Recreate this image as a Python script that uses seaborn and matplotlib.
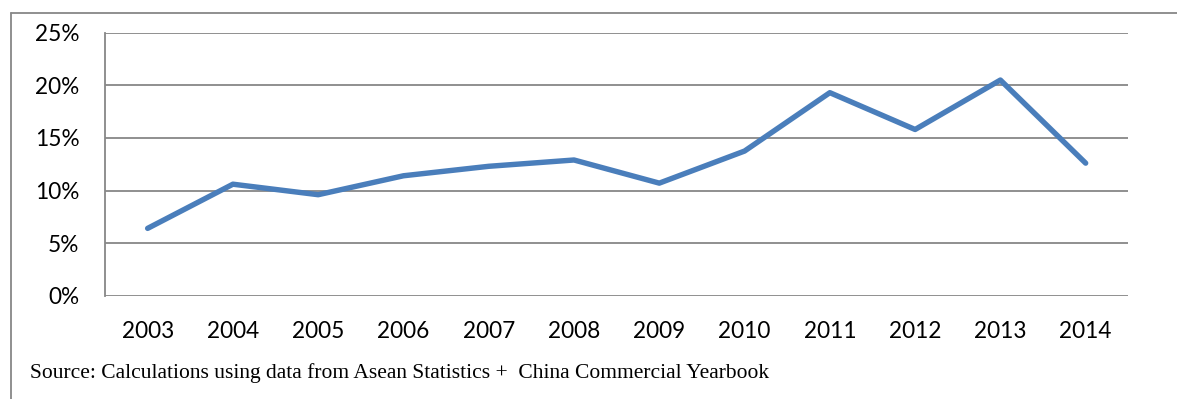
import numpy as np
import pandas as pd
import matplotlib
matplotlib.use("Agg")
import matplotlib.pyplot as plt
from matplotlib.lines import Line2D
from matplotlib.ticker import FuncFormatter
import seaborn as sns

years = ["2003", "2004", "2005", "2006", "2007", "2008",
         "2009", "2010", "2011", "2012", "2013", "2014"]
share = [6.4, 10.6, 9.6, 11.4, 12.3, 12.9, 10.7, 13.75, 19.3, 15.8, 20.5, 12.6]
y_ticks = [0, 5, 10, 15, 20, 25]
source_note = "Source: Calculations using data from Asean Statistics +  China Commercial Yearbook"

sns.set_theme(style="white")
plt.rcParams["font.family"] = ["Lato", "DejaVu Sans"]

grid_col = "#878787"
line_col = "#4A7EBB"

fig = plt.figure(figsize=(11.77, 3.99), dpi=100)
ax = fig.add_axes([105 / 1177, 1 - 295.7 / 399, (1128.3 - 105) / 1177, (295.7 - 32.7) / 399])

df = pd.DataFrame({"pos": np.arange(len(years)), "share": share})
sns.lineplot(data=df, x="pos", y="share", ax=ax, color=line_col, linewidth=3.9,
             solid_capstyle="round", solid_joinstyle="round", zorder=3)

ax.set_xlim(-0.5, len(years) - 0.5)
ax.set_ylim(0, 25)
ax.set_xticks(np.arange(len(years)))
ax.set_xticklabels(years)
ax.set_yticks(y_ticks)
ax.yaxis.set_major_formatter(FuncFormatter(lambda v, _: f"{v:.0f}%"))
ax.set_xlabel("")
ax.set_ylabel("")

ax.grid(axis="y", color=grid_col, linewidth=1.3)
ax.grid(axis="x", visible=False)
ax.set_axisbelow(True)
for side in ["top", "right", "bottom"]:
    ax.spines[side].set_visible(False)
ax.spines["left"].set_color(grid_col)
ax.spines["left"].set_linewidth(1.3)
ax.tick_params(axis="both", length=0, labelsize=16.3, colors="black")
ax.tick_params(axis="y", pad=18.5)
ax.tick_params(axis="x", pad=18.0)

# surrounding frame (top and left edges)
fig.add_artist(Line2D([10.5 / 1177, 1.0], [1 - 13 / 399, 1 - 13 / 399],
                      transform=fig.transFigure, color=grid_col, linewidth=1.3))
fig.add_artist(Line2D([10.5 / 1177, 10.5 / 1177], [0.0, 1 - 13 / 399],
                      transform=fig.transFigure, color=grid_col, linewidth=1.3))

fig.text(30 / 1177, 1 - 373 / 399, source_note, family="Liberation Serif",
         fontsize=15.5, color="black", ha="left", va="center")

fig.savefig("out.png", dpi=100, facecolor="white")
